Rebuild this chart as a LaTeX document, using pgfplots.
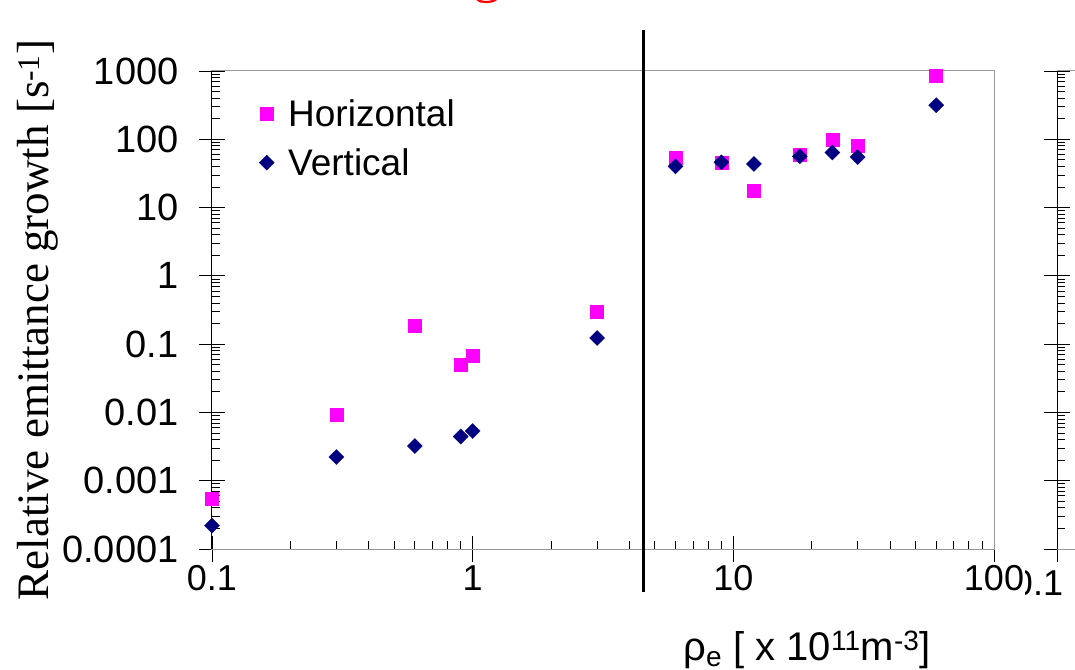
\documentclass[border=0pt]{standalone}
\usepackage{pgfplots}
\pgfplotsset{compat=1.18}
\usepackage{fontspec}
\setmainfont{Liberation Sans}
\newfontfamily\seriffont{Liberation Serif}
\definecolor{hmag}{HTML}{FF00FF}
\definecolor{vnavy}{HTML}{000080}
\definecolor{framegray}{HTML}{999999}
\definecolor{titlered}{HTML}{FF0000}

\begin{document}
\begin{tikzpicture}[x=1pt,y=1pt]
\useasboundingbox (0,0) rectangle (1075,669);

% partial second panel on the right
\begin{axis}[
    scale only axis, xmode=log, ymode=log,
    xmin=0.1, xmax=100, ymin=1e-4, ymax=1000,
    height=478pt, width=400pt,
    at={(1057pt,120pt)}, anchor=south west,
    axis line style={framegray, line width=1pt},
    tick align=inside,
    major tick length=26pt, minor tick length=8pt,
    tick style={black, line width=0.9pt},
    major x tick style={yshift=-13pt},
    major y tick style={xshift=-13pt},
    xtick pos=left, ytick pos=left,
    xtick={0.1,1,10,100},
    ytick={1e-4,1e-3,1e-2,1e-1,1,10,100,1000},
    xticklabels={}, yticklabels={},
    clip=false]
  \addplot[draw=none] coordinates {(1,1)};
  \draw[black, line width=1pt] (rel axis cs:0,0) -- (rel axis cs:0,1);
\end{axis}
\node[anchor=base, font=\fontsize{36}{42}\selectfont] at (1038,74) {0.1};
\fill[white] (940,30) rectangle (1025,110);

% red title (mostly outside the picture)
\node[anchor=base west, inner sep=0pt, text=titlered, font=\seriffont\fontsize{56}{60}\selectfont] at (473,677) {growth};

% main panel
\begin{axis}[
    scale only axis, xmode=log, ymode=log,
    xmin=0.1, xmax=100, ymin=1e-4, ymax=1000,
    height=478pt, width=782pt,
    at={(212pt,120pt)}, anchor=south west,
    axis line style={framegray, line width=1pt},
    tick align=inside,
    major tick length=26pt, minor tick length=8pt,
    tick style={black, line width=0.9pt},
    major x tick style={yshift=-13pt},
    major y tick style={xshift=-13pt},
    xtick pos=left, ytick pos=left,
    xtick={0.1,1,10,100},
    ytick={1e-4,1e-3,1e-2,1e-1,1,10,100,1000},
    xticklabels={0.1,1,10,100},
    yticklabels={0.0001,0.001,0.01,0.1,1,10,100,1000},
    yticklabel style={font=\fontsize{38}{44}\selectfont, xshift=-30pt},
    xticklabel style={font=\fontsize{36}{42}\selectfont, yshift=-13pt},
    legend style={at={(rel axis cs:0,1)}, anchor=north west, xshift=44pt, yshift=-24pt,
      draw=none, fill=none, font=\fontsize{37}{42}\selectfont, row sep=17pt, column sep=12pt},
    legend cell align=left,
    clip=false]
\addplot[only marks, mark=square*, mark size=6.5pt, color=hmag] coordinates {
 (0.1,0.00055) (0.3,0.0094) (0.6,0.185) (0.9,0.05) (1,0.068) (3,0.295)
 (6,53) (9,46) (12,17.4) (18,60) (24,100) (30,80) (60,843)
};
\addlegendentry{Horizontal}
\addplot[only marks, mark=square*, mark size=5.3pt, mark options={rotate=45}, color=vnavy] coordinates {
 (0.1,0.00022) (0.3,0.00222) (0.6,0.00322) (0.9,0.00444) (1,0.00534) (3,0.123)
 (6,40) (9,46) (12,43.5) (18,56.5) (24,64) (30,55) (60,316)
};
\addlegendentry{Vertical}
\draw[black, line width=1pt] (rel axis cs:0,0) -- (rel axis cs:0,1);
\end{axis}

% separator line
\draw[black, line width=3pt] (643,639) -- (643,77);

% axis labels
\node[rotate=90, font=\seriffont\fontsize{45}{50}\selectfont] at (38,349) {Relative emittance growth [s\textsuperscript{-1}]};
\node[anchor=base, font=\fontsize{40}{44}\selectfont] at (807,9) {ρ\textsubscript{e} [ x 10\textsuperscript{11}m\textsuperscript{-3}]};
\end{tikzpicture}
\end{document}
